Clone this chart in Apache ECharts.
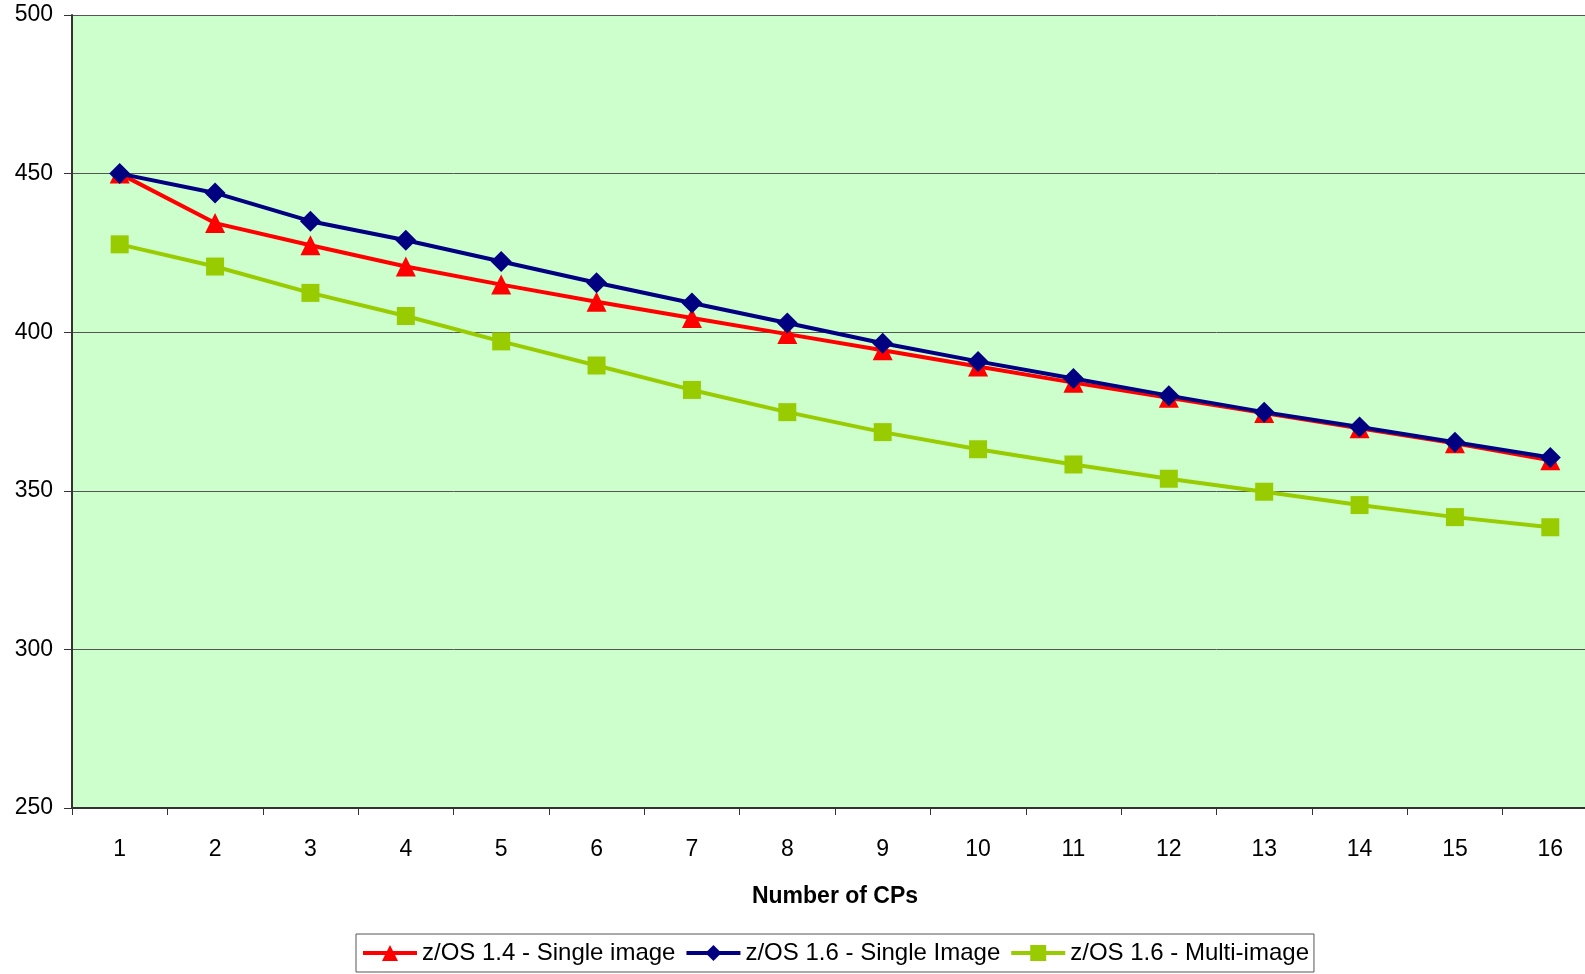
<!DOCTYPE html>
<html><head><meta charset="utf-8">
<script src="https://cdn.jsdelivr.net/npm/echarts@6/dist/echarts.min.js"></script>
<style>html,body{margin:0;padding:0;background:#fff;overflow:hidden;width:100%;height:100%}#c{width:1598px;height:974px}</style>
</head><body><div id="c"></div>
<script>
const categories = ['1','2','3','4','5','6','7','8','9','10','11','12','13','14','15','16'];
const zos14Single = [450, 434.4, 427.4, 420.7, 415.0, 409.6, 404.5, 399.4, 394.3, 389.2, 384.1, 379.3, 374.5, 369.7, 365.0, 359.6];
const zos16Single = [450, 443.9, 435.0, 429.0, 422.3, 415.6, 409.2, 402.9, 396.5, 390.8, 385.4, 380.0, 374.8, 370.1, 365.3, 360.5];
const zos16Multi = [427.7, 420.7, 412.4, 405.1, 397.1, 389.5, 381.8, 374.8, 368.5, 363.1, 358.3, 353.8, 349.7, 345.5, 341.7, 338.5];
const seriesNames = ['z/OS 1.4 - Single image', 'z/OS 1.6 - Single Image', 'z/OS 1.6 - Multi-image'];

const chart = echarts.init(document.getElementById('c'), null, {renderer: 'canvas'});
const font = 'Liberation Sans, Arial, sans-serif';
chart.setOption({
  animation: false,
  grid: {left: 72, right: 0, top: 15, bottom: 166, backgroundColor: '#ccffcc', show: true, borderWidth: 0, outerBoundsMode: 'none'},
  xAxis: {
    type: 'category', data: categories, boundaryGap: true,
    name: 'Number of CPs', nameLocation: 'middle', nameGap: 77,
    nameTextStyle: {fontFamily: font, fontSize: 23, fontWeight: 'bold', color: '#000'},
    axisLine: {lineStyle: {color: '#333', width: 2}},
    axisTick: {show: true, length: 7, lineStyle: {color: '#333'}},
    axisLabel: {fontFamily: font, fontSize: 23, color: '#000', margin: 30}
  },
  yAxis: {
    type: 'value', min: 250, max: 500, interval: 50,
    axisLine: {show: true, lineStyle: {color: '#333', width: 2}},
    axisTick: {show: true, length: 8, lineStyle: {color: '#333'}},
    axisLabel: {fontFamily: font, fontSize: 23, color: '#000', margin: 19},
    splitLine: {show: true, lineStyle: {color: '#555', width: 1}}
  },
  legend: {
    bottom: 2, left: 356,
    data: seriesNames,
    borderColor: '#555', borderWidth: 1, padding: [7, 5, 7, 5],
    itemGap: 9, itemWidth: 54, itemHeight: 20,
    lineStyle: {width: 4},
    textStyle: {fontFamily: font, fontSize: 24, color: '#000'}
  },
  series: [
    {name: seriesNames[0], type: 'line', data: zos14Single, symbol: 'triangle', symbolSize: 20,
     itemStyle: {color: '#ff0000'}, lineStyle: {color: '#ff0000', width: 4}, z: 3},
    {name: seriesNames[1], type: 'line', data: zos16Single, symbol: 'diamond', symbolSize: 21,
     itemStyle: {color: '#000080'}, lineStyle: {color: '#000080', width: 4}, z: 4},
    {name: seriesNames[2], type: 'line', data: zos16Multi, symbol: 'rect', symbolSize: 18,
     itemStyle: {color: '#99cc00'}, lineStyle: {color: '#99cc00', width: 4}, z: 2}
  ]
});
</script></body></html>
